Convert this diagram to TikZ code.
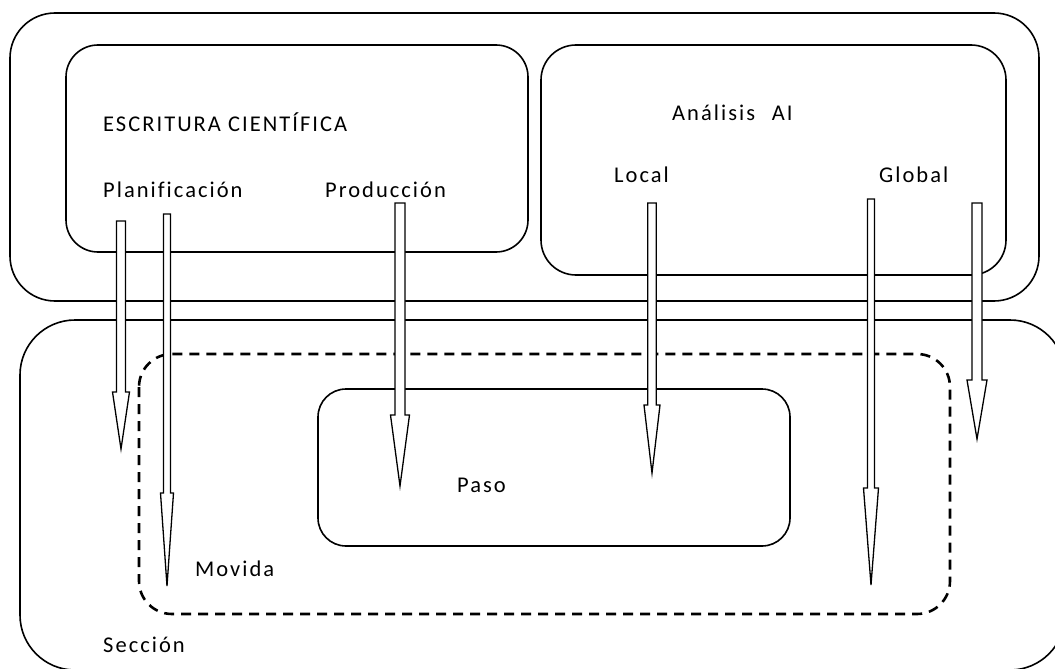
\documentclass[tikz,border=0pt]{standalone}
\usepackage{fontspec}
\setmainfont{Carlito}[LetterSpace=9,Ligatures={NoCommon}]
\usetikzlibrary{calc}

\newcommand{\blockarrow}[5]{%
  \draw[arrowbody] let \p1=(#1), \p2=(#2) in
    (\x1-#3pt,\y1) -- (\x1+#3pt,\y1) -- (\x1+#3pt,\y2+#5pt) -- (\x1+#4pt,\y2+#5pt)
    -- (\x2,\y2) -- (\x1-#4pt,\y2+#5pt) -- (\x1-#3pt,\y2+#5pt) -- cycle;}

\begin{document}
\begin{tikzpicture}
	[x=1pt,y=-1pt,
	every node/.style={anchor=base west,inner sep=0pt,font=\fontsize{22.5}{27}\selectfont},
	region/.style={draw,line width=1.6pt},
	movebox/.style={draw,line width=2.6pt,dash pattern=on 10pt off 7pt},
	arrowbody/.style={draw,fill=white,line width=1.3pt}]
	\useasboundingbox (0,0) rectangle (1055,669);
	\clip (0,0) rectangle (1055,669);
	\draw[region,rounded corners=45pt] (10,13) rectangle (1039,301);
	\draw[region,rounded corners=32pt] (66,45) rectangle (528,252);
	\draw[region,rounded corners=35pt] (541,45) rectangle (1006,275);
	\draw[region,rounded corners=55pt] (20,320) rectangle (1065,670);
	\draw[movebox,rounded corners=33pt] (139,354) rectangle (950,614);
	\draw[region,rounded corners=28pt] (318,389) rectangle (790,546);
	\node (escritura) at (103,131) {ESCRITURA CIENTÍFICA};
	\node (planif) at (103,197) {Planificación};
	\node (produc) at (325,197) {Producción};
	\node (analisis) at (672,121) {Análisis\hspace{0.75em}AI};
	\node (local) at (614,182) {Local};
	\node (global) at (879,182) {Global};
	\node (paso) at (457,492) {Paso};
	\node (movida) at (195,576) {Movida};
	\node (seccion) at (103,652) {Sección};
	\coordinate (pl1-s) at (121,221);
	\coordinate (pl1-e) at (121,449);
	\coordinate (pl2-s) at (167,214);
	\coordinate (pl2-e) at (167,586);
	\coordinate (pr-s) at (400,203);
	\coordinate (pr-e) at (400,486);
	\coordinate (lo-s) at (652,203);
	\coordinate (lo-e) at (652,473);
	\coordinate (gl1-s) at (871,199);
	\coordinate (gl1-e) at (871,585);
	\coordinate (gl2-s) at (977,203);
	\coordinate (gl2-e) at (977,439);
	\blockarrow{pl1-s}{pl1-e}{4.5}{8.5}{57}
	\blockarrow{pl2-s}{pl2-e}{3.5}{6.5}{93}
	\blockarrow{pr-s}{pr-e}{5}{9.5}{71}
	\blockarrow{lo-s}{lo-e}{4.25}{8}{68}
	\blockarrow{gl1-s}{gl1-e}{3.5}{7.5}{97}
	\blockarrow{gl2-s}{gl2-e}{5}{10}{59}
\end{tikzpicture}
\end{document}
